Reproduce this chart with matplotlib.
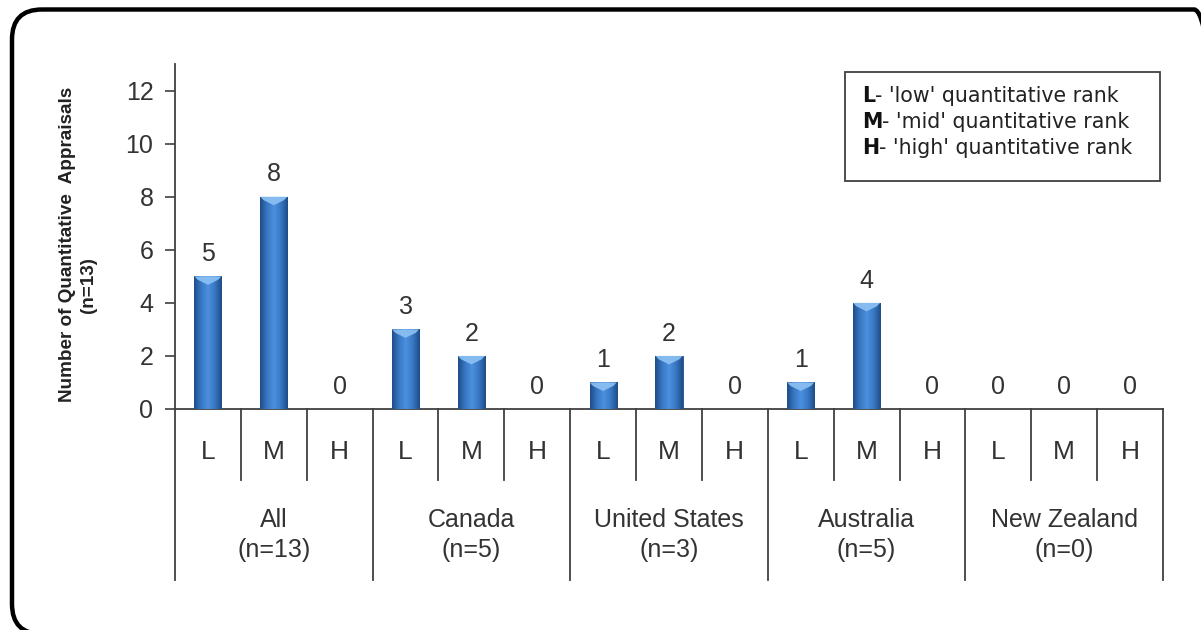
import matplotlib
matplotlib.use("Agg")
import matplotlib.pyplot as plt
import numpy as np
from matplotlib.patches import FancyBboxPatch, Rectangle, Polygon
from matplotlib.colors import LinearSegmentedColormap
from matplotlib.transforms import IdentityTransform, blended_transform_factory

# ---- data ----
groups = ["All", "Canada", "United States", "Australia", "New Zealand"]
group_n = ["(n=13)", "(n=5)", "(n=3)", "(n=5)", "(n=0)"]
ranks = ["L", "M", "H"]
low = [5, 3, 1, 1, 0]
mid = [8, 2, 2, 4, 0]
high = [0, 0, 0, 0, 0]
yticks = [0, 2, 4, 6, 8, 10, 12]

legend_lines = [("L", "- 'low' quantitative rank"),
                ("M", "- 'mid' quantitative rank"),
                ("H", "- 'high' quantitative rank")]

SANS = ["Liberation Sans", "DejaVu Sans"]
TXT = "#333333"
LINE = "#404040"

W, H = 1201, 630
fig = plt.figure(figsize=(W / 100, H / 100), dpi=100)
fig.patch.set_facecolor("white")

# rounded frame (right and bottom edges fall just outside the canvas)
frame = FancyBboxPatch((12, -4), 1212, 624.5,
                       boxstyle="round,pad=0,rounding_size=30",
                       transform=IdentityTransform(), facecolor="none",
                       edgecolor="black", lw=3.2, clip_on=False)
fig.add_artist(frame)

ax = fig.add_axes([175 / W, (H - 409) / H, 988 / W, 345 / H])
ax.set_facecolor("none")

# interleave values -> 15 slots
vals = []
for g in range(len(groups)):
    vals += [low[g], mid[g], high[g]]
xs = np.arange(len(vals)) + 0.5

bars = ax.bar(xs, vals, width=0.41, color="#3A78C4", edgecolor="#1E4B85",
              linewidth=0.6, zorder=3)

cmap = LinearSegmentedColormap.from_list(
    "barg", ["#1F4C88", "#3878C4", "#4C90DE", "#3878C4", "#1F4C88"])
grad = np.linspace(0, 1, 64).reshape(1, -1)
for rect in bars:
    h = rect.get_height()
    if h <= 0:
        continue
    x0 = rect.get_x(); x1 = x0 + rect.get_width()
    im = ax.imshow(grad, extent=[x0, x1, 0, h], aspect="auto", cmap=cmap,
                   origin="lower", zorder=4, interpolation="bicubic")
    im.set_clip_path(rect)
    w = x1 - x0; xc = (x0 + x1) / 2
    ax.add_patch(Polygon([(x0, h), (x1, h), (x1 - w * 0.12, h - 0.13),
                          (xc, h - 0.32), (x0 + w * 0.12, h - 0.13)],
                         closed=True, facecolor="#8DC2F3", edgecolor="none",
                         alpha=0.9, zorder=5))

for x, v in zip(xs, vals):
    ax.annotate(str(v), (x, v), xytext=(0, 11), textcoords="offset points",
                ha="center", va="baseline", fontsize=18, color=TXT,
                family=SANS)

ax.set_xlim(0, 15)
ax.set_ylim(0, 13)
ax.set_yticks(yticks)
ax.set_yticklabels([str(t) for t in yticks], fontsize=18, color=TXT,
                   family=SANS)
ax.set_xticks([])
ax.tick_params(axis="y", direction="out", length=7.5, width=1.2, color=LINE,
               pad=8)
for s in ["top", "right"]:
    ax.spines[s].set_visible(False)
for s in ["left", "bottom"]:
    ax.spines[s].set_color(LINE)
    ax.spines[s].set_linewidth(1.3)

# category table below the axis
tr = blended_transform_factory(ax.transData, ax.transAxes)
for k in range(len(vals) + 1):
    bottom = -0.4957 if k % 3 == 0 else -0.2058
    ax.plot([k, k], [0, bottom], color=LINE, lw=1.3, transform=tr,
            clip_on=False)
for i, x in enumerate(xs):
    ax.text(x, -0.125, ranks[i % 3], transform=tr, ha="center", va="center",
            fontsize=19, color=TXT, family=SANS)
for g in range(len(groups)):
    xc = 3 * g + 1.5
    ax.text(xc, -0.322, groups[g], transform=tr, ha="center", va="center",
            fontsize=18, color=TXT, family=SANS)
    ax.text(xc, -0.409, group_n[g], transform=tr, ha="center", va="center",
            fontsize=18, color=TXT, family=SANS)

# y label
fig.text(68 / W, (H - 244) / H, "Number of Quantitative  Appraisals",
         rotation=90, ha="center", va="center", fontsize=13.6,
         fontweight="bold", color="#222222", family=SANS)
fig.text(88 / W, (H - 285) / H, "(n=13)", rotation=90, ha="center",
         va="center", fontsize=13.6, fontweight="bold", color="#222222",
         family=SANS)

# legend box
fig.add_artist(Rectangle((845, H - 181), 315, 109, transform=IdentityTransform(),
                         facecolor="white", edgecolor=LINE, lw=1.3))
for j, (b, rest) in enumerate(legend_lines):
    yb = (H - (102 + 26 * j)) / H
    t = fig.text(862 / W, yb, b, fontsize=14.8, fontweight="bold",
                 color="#111111", family="DejaVu Sans", va="baseline",
                 ha="left")
    fig.add_artist(plt.Annotation(rest, xy=(1, 0), xycoords=t, va="bottom",
                                  ha="left", fontsize=14.8, color="#222222",
                                  family="DejaVu Sans"))

fig.savefig("out.png", dpi=100, facecolor="white")
